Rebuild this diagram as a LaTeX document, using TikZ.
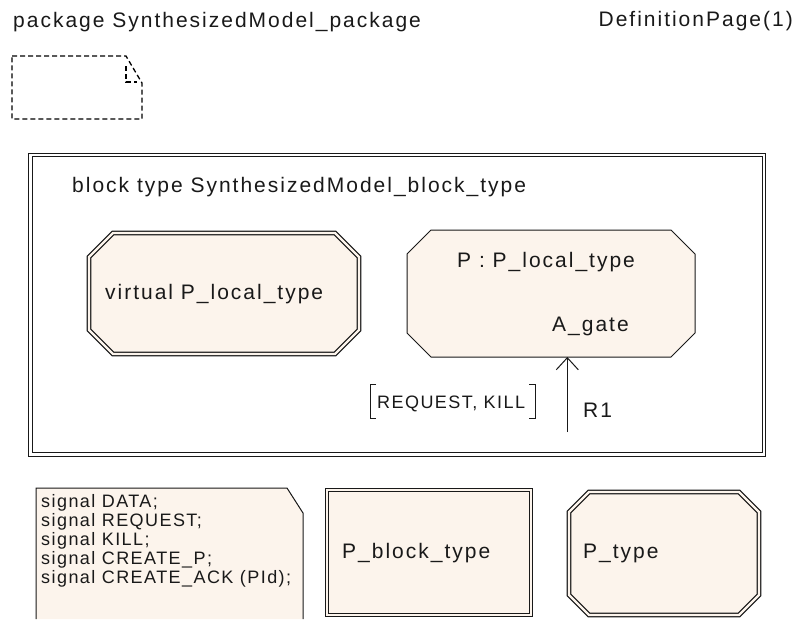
\documentclass[tikz,border=0pt]{standalone}
\usepackage{fontspec}
\setmainfont{Liberation Sans}
\newfontfamily\labelfont{Liberation Sans}[LetterSpace=9.5]
\newfontfamily\smallfont{Liberation Sans}[LetterSpace=8]
\usetikzlibrary{arrows.meta}
\definecolor{paper}{RGB}{252,244,236}
\definecolor{ink}{RGB}{25,25,25}

% octagon with corners cut by #5: (#1,#2) top left, (#3,#4) bottom right
\newcommand\OctPath[5]{(#1+#5,#2) -- (#3-#5,#2) -- (#3,#2+#5) -- (#3,#4-#5)
  -- (#3-#5,#4) -- (#1+#5,#4) -- (#1,#4-#5) -- (#1,#2+#5) -- cycle}

\tikzset{
  every node/.style={inner sep=0pt, text=ink},
  bigtext/.style={font=\labelfont\fontsize{21}{24}\selectfont, anchor=base west},
  smalltext/.style={font=\smallfont\fontsize{18}{19}\selectfont},
  dbl/.style={draw=ink, line width=1.2pt, double=#1, double distance=2.3pt},
  single/.style={draw=ink, line width=1pt},
  dashedicon/.style={draw=black, line width=1.3pt, dash pattern=on 5pt off 3pt},
}

\begin{document}
\begin{tikzpicture}[x=1pt, y=-1pt]
\useasboundingbox (0,0) rectangle (801,619);
\fill[white] (0,0) rectangle (801,619);

% page header
\node (pkg) [bigtext] at (13,27) {package SynthesizedModel\_package};
\node (page) [bigtext, anchor=base east] at (793,26) {DefinitionPage(1)};

% dashed package reference icon
\draw[dashedicon] (12,56) -- (126,56) -- (142,83) -- (142,119) -- (12,119) -- cycle;
\draw[dashedicon] (126,66) -- (126,82) -- (137,82);

% block type frame
\draw[dbl=white] (30.5,155) rectangle (764,454.5);
\node (blk) [bigtext] at (72,192) {block type SynthesizedModel\_block\_type};

% virtual process type
\path[dbl=paper, fill=paper] \OctPath{89}{233}{359}{354}{24};
\node (virt) [bigtext] at (105,299) {virtual P\_local\_type};

% process instance P
\path[single, fill=paper] \OctPath{407}{230}{695}{357}{24};
\node (pinst) [bigtext] at (457,267) {P : P\_local\_type};
\node (agate) [bigtext] at (552,331) {A\_gate};

% channel R1 into gate A_gate
\coordinate (gatept) at (567.3,357);
\coordinate (r1foot) at (567.3,432);
\draw[line width=1pt, draw=ink, -{Straight Barb[length=12pt, width=22pt, line width=1pt]}] (r1foot) -- (gatept);
\node (r1) [bigtext] at (583,417) {R1};
\node (siglist) [smalltext, anchor=base west] at (377,408) {REQUEST, KILL};
\draw[line width=1pt, draw=ink] (376,384) -- (370,384) -- (370,418) -- (376,418);
\draw[line width=1pt, draw=ink] (529,384) -- (535,384) -- (535,418) -- (529,418);

% signal declarations
\fill[paper] (36,488) -- (287,488) -- (303,513) -- (303,619) -- (36,619) -- cycle;
\draw[single] (36,619) -- (36,488) -- (287,488) -- (303,513) -- (303,619);
\node (sigs) [smalltext, anchor=north west, align=left] at (41,494)
  {signal DATA;\\signal REQUEST;\\signal KILL;\\signal CREATE\_P;\\signal CREATE\_ACK (PId);};

% block type and process type references
\path[dbl=paper, fill=paper] (327,490) rectangle (531,615);
\node (pblk) [bigtext] at (342,558) {P\_block\_type};
\path[dbl=paper, fill=paper] \OctPath{569}{492}{759}{615}{20};
\node (ptype) [bigtext] at (583,558) {P\_type};
\end{tikzpicture}
\end{document}
